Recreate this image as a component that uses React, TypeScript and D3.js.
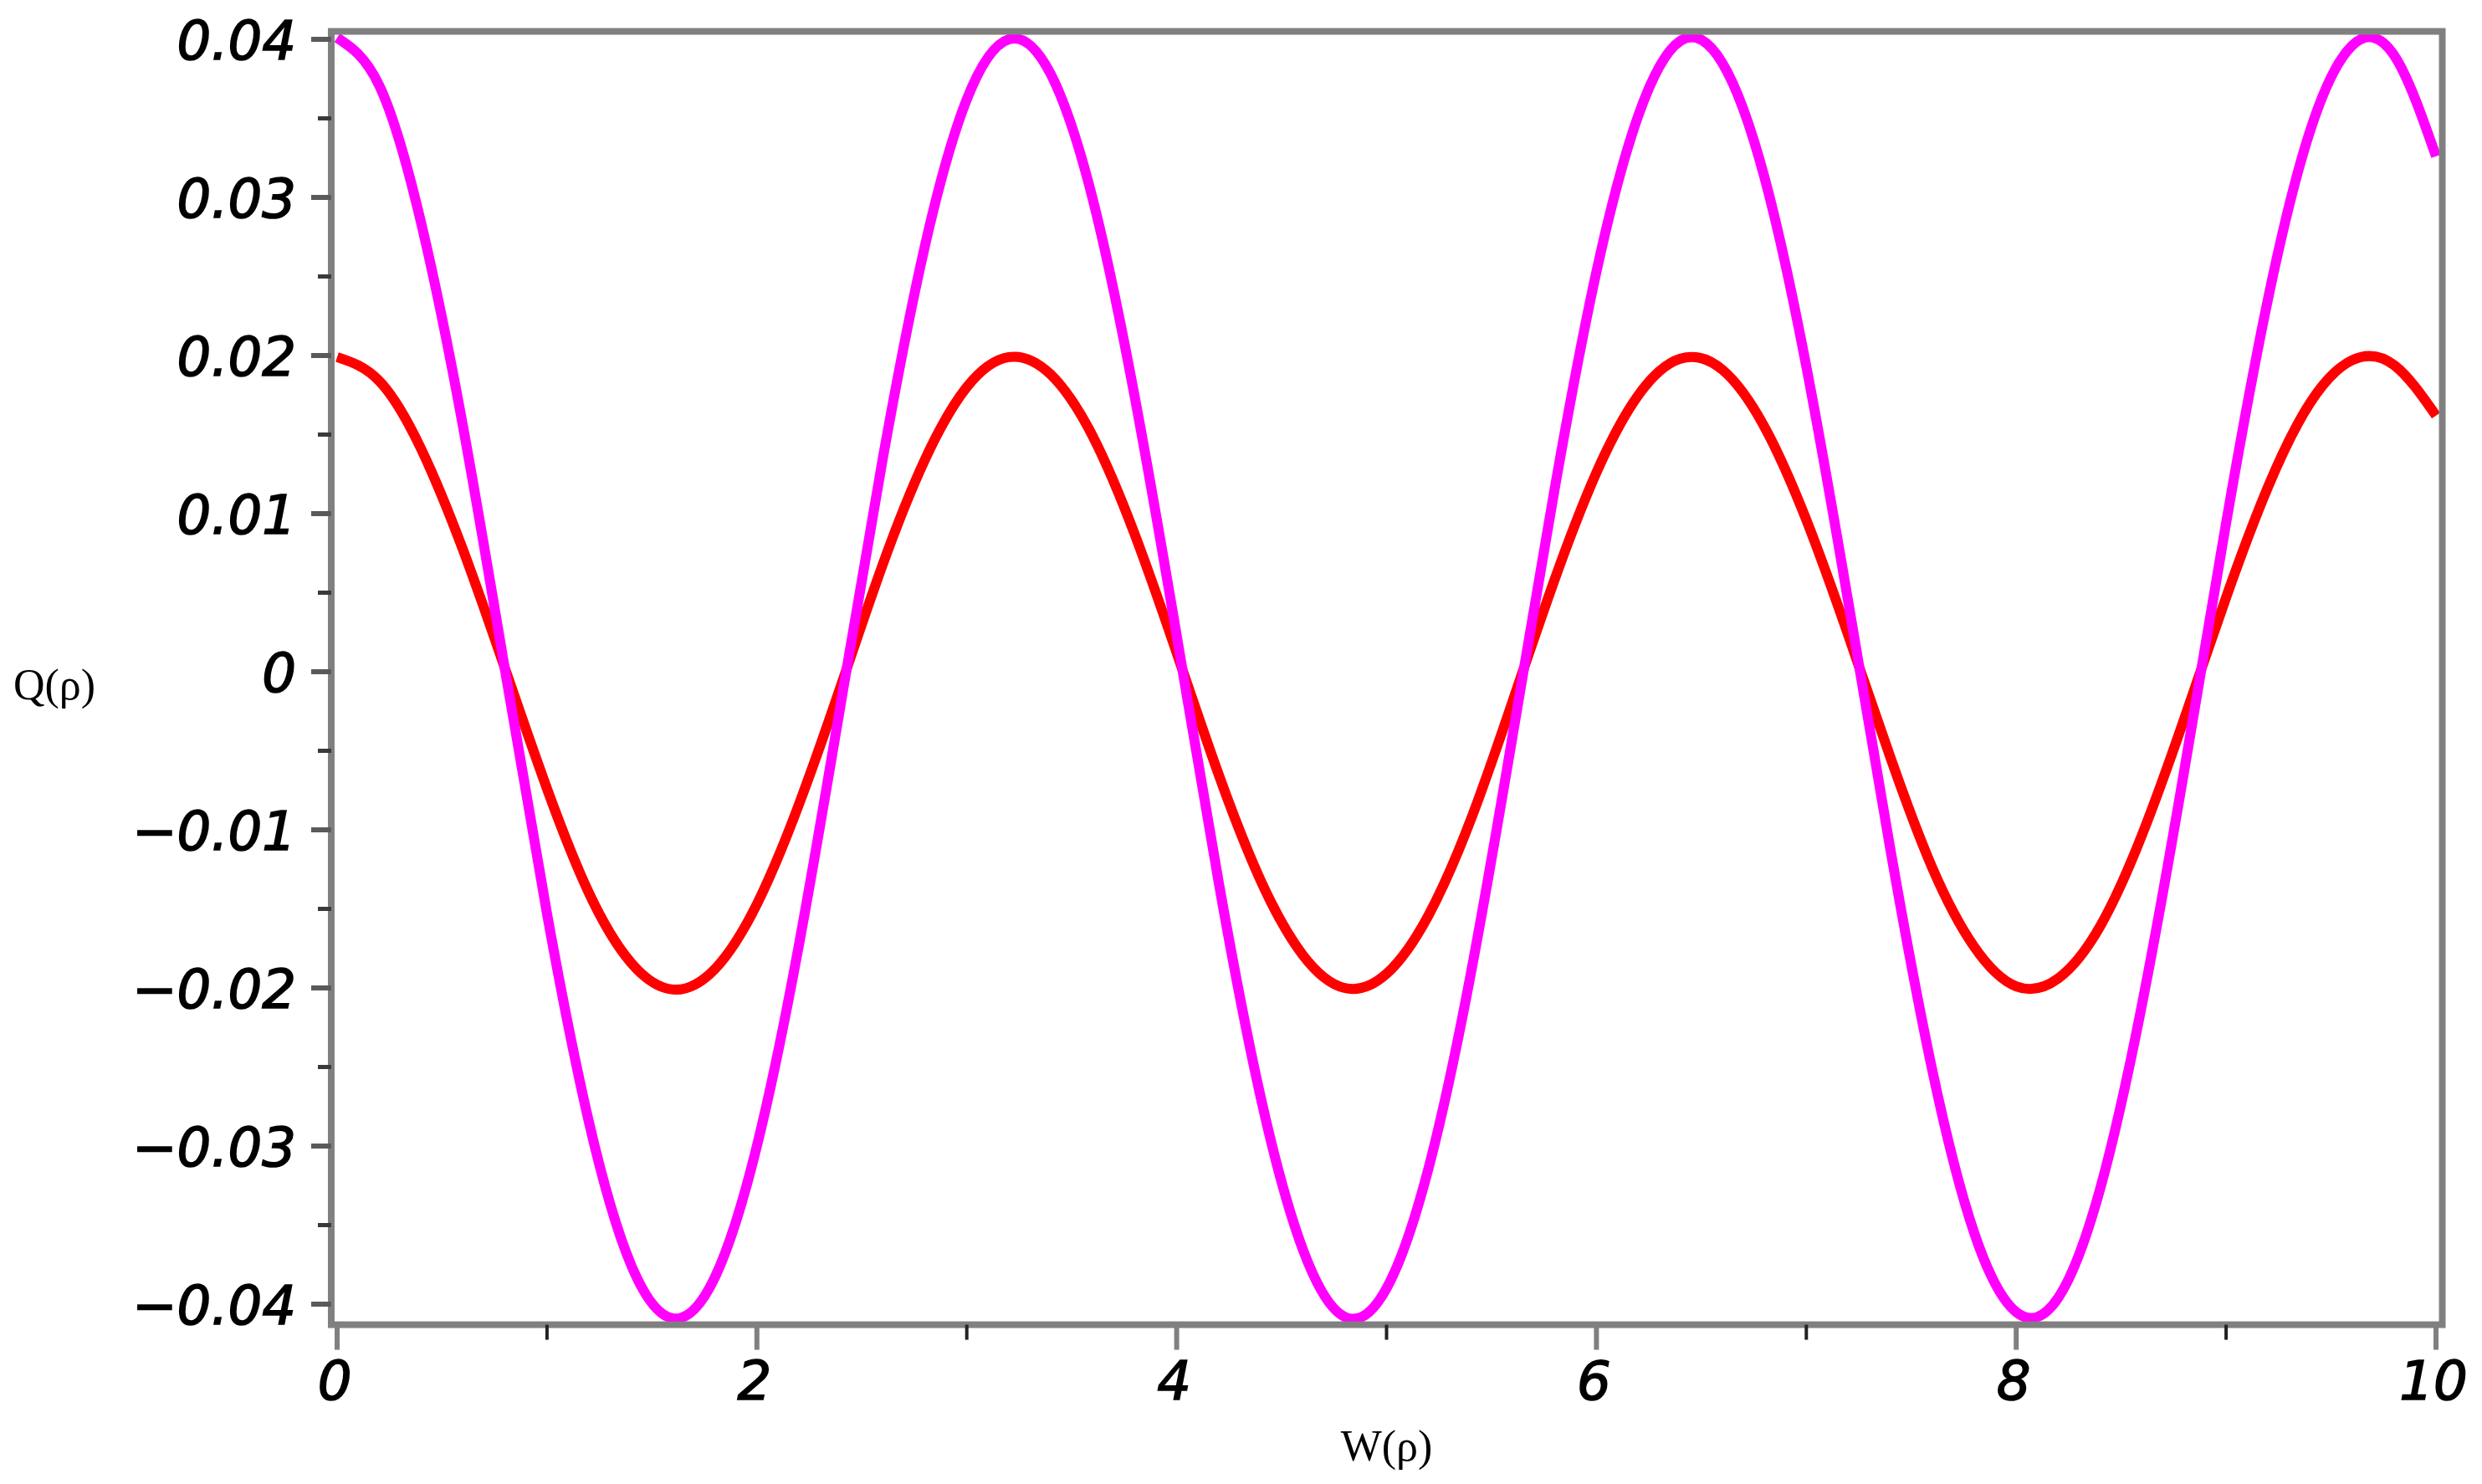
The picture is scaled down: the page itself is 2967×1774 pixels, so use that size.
import * as d3 from "d3";

const W_VALUES = [
  0, 0.2, 0.4, 0.6, 0.8, 1, 1.2, 1.4, 1.6, 1.8, 2, 2.2, 2.4, 2.6, 2.8, 3, 3.2, 3.4, 3.6, 3.8, 4, 4.2, 4.4, 4.6, 4.8,
  5, 5.2, 5.4, 5.6, 5.8, 6, 6.2, 6.4, 6.6, 6.8, 7, 7.2, 7.4, 7.6, 7.8, 8, 8.2, 8.4, 8.6, 8.8, 9, 9.2, 9.4, 9.6, 9.8, 10,
];

const Q_MAGENTA = [
  0.0401, 0.0371, 0.0284, 0.0155, 0.0001, -0.0153, -0.0285, -0.0375, -0.0409, -0.0383, -0.03, -0.0173, -0.002,
  0.0135, 0.0269, 0.0362, 0.04, 0.0378, 0.0299, 0.0174, 0.0023, -0.0133, -0.0269, -0.0365, -0.0408, -0.039, -0.0314,
  -0.0192, -0.0041, 0.0115, 0.0253, 0.0352, 0.0399, 0.0385, 0.0313, 0.0193, 0.0044, -0.0112, -0.0252, -0.0355,
  -0.0405, -0.0396, -0.0327, -0.021, -0.0063, 0.0094, 0.0236, 0.0342, 0.0396, 0.039, 0.0326,
];

const Q_RED = [
  0.0199, 0.0184, 0.0141, 0.0077, 0.0002, -0.0074, -0.014, -0.0184, -0.0201, -0.0188, -0.0147, -0.0084, -0.0009,
  0.0068, 0.0134, 0.018, 0.0199, 0.0188, 0.0149, 0.0087, 0.0012, -0.0065, -0.0132, -0.0179, -0.02, -0.0191, -0.0154,
  -0.0094, -0.0019, 0.0058, 0.0126, 0.0175, 0.0198, 0.0191, 0.0155, 0.0096, 0.0023, -0.0054, -0.0124, -0.0174,
  -0.0199, -0.0194, -0.0161, -0.0103, -0.003, 0.0047, 0.0117, 0.017, 0.0197, 0.0194, 0.0162,
];

const X_TICKS = [0, 2, 4, 6, 8, 10];
const X_MINOR = [1, 3, 5, 7, 9];
const Y_TICKS = [0.04, 0.03, 0.02, 0.01, 0, -0.01, -0.02, -0.03, -0.04];
const Y_MINOR = [0.035, 0.025, 0.015, 0.005, -0.005, -0.015, -0.025, -0.035];

const fmtY = (v: number) => (v === 0 ? "0" : (v < 0 ? "\u2212" : "") + Math.abs(v).toFixed(2));

export default function App() {
  const width = 2967;
  const height = 1774;

  const x = d3.scaleLinear().domain([0, 10]).range([403, 2912]);
  const y = d3.scaleLinear().domain([-0.04, 0.04]).range([1559, 47]);

  const frame = { left: x(-0.028), right: x(10.03), top: y(0.0405), bottom: y(-0.0413) };

  const line = (vals: number[]) =>
    d3
      .line<number>()
      .x((_, i) => x(W_VALUES[i]))
      .y((d) => y(d))
      .curve(d3.curveNatural)(vals) ?? "";

  // a thin outline thickens the glyphs a little, like the original's rendering
  const tickFont = {
    fontFamily: "DejaVu Sans",
    fontStyle: "italic",
    fontSize: 64,
    fill: "#000",
    stroke: "#000",
    strokeWidth: 1.6,
  } as const;

  return (
    <svg
      width={width}
      height={height}
      viewBox={`0 0 ${width} ${height}`}
      style={{ position: "absolute", left: 0, top: 0, background: "#fff" }}
    >
      <path d={line(Q_RED)} fill="none" stroke="#ff0000" strokeWidth={12} strokeLinejoin="round" />
      <path d={line(Q_MAGENTA)} fill="none" stroke="#ff00ff" strokeWidth={12} strokeLinejoin="round" />

      {/* frame */}
      <rect
        x={frame.left}
        y={frame.top}
        width={frame.right - frame.left}
        height={frame.bottom - frame.top}
        fill="none"
        stroke="#808080"
        strokeWidth={8}
      />

      {/* y axis ticks */}
      {Y_TICKS.map((v) => (
        <g key={`y${v}`}>
          <line x1={frame.left - 24} x2={frame.left} y1={y(v)} y2={y(v)} stroke="#5a5a5a" strokeWidth={6} />
          <text x={354} y={y(v) + 24} textAnchor="end" {...tickFont}>
            {fmtY(v)}
          </text>
        </g>
      ))}
      {Y_MINOR.map((v) => (
        <line key={`ym${v}`} x1={frame.left - 16} x2={frame.left} y1={y(v)} y2={y(v)} stroke="#3a3a3a" strokeWidth={5} />
      ))}

      {/* x axis ticks */}
      {X_TICKS.map((v) => (
        <g key={`x${v}`}>
          <line x1={x(v)} x2={x(v)} y1={frame.bottom} y2={frame.bottom + 30} stroke="#808080" strokeWidth={6} />
          <text x={x(v) - 3} y={1673} textAnchor="middle" {...tickFont}>
            {v}
          </text>
        </g>
      ))}
      {X_MINOR.map((v) => (
        <line key={`xm${v}`} x1={x(v)} x2={x(v)} y1={frame.bottom} y2={frame.bottom + 18} stroke="#222" strokeWidth={4} />
      ))}

      {/* axis labels */}
      <text x={16} y={836} fontFamily="Liberation Serif" fontSize={52} fill="#000">
        Q(ρ)
      </text>
      <text x={(x(0) + x(10)) / 2} y={1746} textAnchor="middle" fontFamily="Liberation Serif" fontSize={52} fill="#000">
        W(ρ)
      </text>
    </svg>
  );
}
